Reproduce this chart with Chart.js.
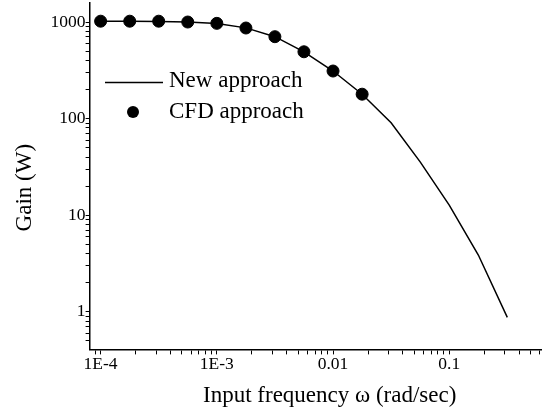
<!DOCTYPE html>
<html>
<head>
<meta charset="utf-8">
<script src="https://cdn.jsdelivr.net/npm/chart.js@4"></script>
<style>
  html, body { margin: 0; padding: 0; background: #fff; }
  #wrap { width: 542px; height: 417px; }
</style>
</head>
<body>
<div id="wrap"><canvas id="gainChart" width="542" height="417"></canvas></div>
<script>
// frequency (rad/sec) and gain (W)
const freqNew = [1e-4, 1.78e-4, 3.16e-4, 5.62e-4, 1e-3, 1.78e-3, 3.16e-3, 5.62e-3, 0.01, 0.0178, 0.0316, 0.0562, 0.1, 0.178, 0.316];
const gainNew = [1020, 1020, 1010, 1000, 965, 870, 705, 492, 311, 179, 90.6, 35.7, 12.7, 3.87, 0.875];

const freqCFD = [1e-4, 1.78e-4, 3.16e-4, 5.62e-4, 1e-3, 1.78e-3, 3.16e-3, 5.62e-3, 0.01, 0.0178];
const gainCFD = [1020, 1020, 1020, 1000, 969, 867, 705, 492, 311, 179];

const xTickValues = [1e-4, 1e-3, 0.01, 0.1];
const xTickLabels = ['1E-4', '1E-3', '0.01', '0.1'];
const yTickValues = [1, 10, 100, 1000];
const yTickLabels = ['1', '10', '100', '1000'];

const xRange = [8.04e-5, 0.616];
const yRange = [0.408, 1574];

const serif = 'Liberation Serif, Times New Roman, serif';

// minor ticks at k*10^n, plus the two ends (kept invisible) so the
// end labels don't push the plot area inwards
function logTicks(scale) {
    const ticks = [{ value: scale.min, edge: true }];
    const lo = Math.floor(Math.log10(scale.min));
    const hi = Math.ceil(Math.log10(scale.max));
    for (let e = lo; e <= hi; e++) {
        for (let k = 1; k <= 9; k++) {
            const v = k * Math.pow(10, e);
            if (v > scale.min && v < scale.max) ticks.push({ value: v });
        }
    }
    ticks.push({ value: scale.max, edge: true });
    scale.ticks = ticks;
}

function findLabel(values, labels, value) {
    const i = values.findIndex(v => Math.abs(v - value) / v < 1e-6);
    return i >= 0 ? labels[i] : '';
}

const tickColor = ctx => (ctx.tick && ctx.tick.edge) ? 'rgba(0,0,0,0)' : '#000';
const tickFont = (values, labels) => ctx => {
    const lbl = ctx.tick ? findLabel(values, labels, ctx.tick.value) : 'x';
    return { family: serif, size: lbl ? 17.5 : 1 };
};

const legendInside = {
    id: 'legendInside',
    afterDatasetsDraw(chart) {
        const ctx = chart.ctx;
        ctx.save();
        ctx.strokeStyle = '#000';
        ctx.lineWidth = 1.5;
        ctx.beginPath();
        ctx.moveTo(105, 82.5);
        ctx.lineTo(163, 82.5);
        ctx.stroke();
        ctx.fillStyle = '#000';
        ctx.beginPath();
        ctx.arc(133, 112, 6, 0, Math.PI * 2);
        ctx.fill();
        ctx.font = '23px ' + serif;
        ctx.textBaseline = 'middle';
        ctx.fillText('New approach', 169, 81);
        ctx.fillText('CFD approach', 169, 112);
        ctx.restore();
    }
};

new Chart(document.getElementById('gainChart'), {
    type: 'scatter',
    data: {
        datasets: [{
            label: 'New approach',
            data: freqNew.map((x, i) => ({ x: x, y: gainNew[i] })),
            showLine: true,
            borderColor: '#000',
            borderWidth: 1.5,
            pointRadius: 0,
            tension: 0
        }, {
            label: 'CFD approach',
            data: freqCFD.map((x, i) => ({ x: x, y: gainCFD[i] })),
            showLine: false,
            backgroundColor: '#000',
            borderColor: '#000',
            pointRadius: 6,
            pointHoverRadius: 6
        }]
    },
    options: {
        responsive: false,
        animation: false,
        layout: { autoPadding: false, padding: { left: 0, right: 1, top: 3, bottom: 7 } },
        plugins: {
            legend: { display: false },
            tooltip: { enabled: false }
        },
        scales: {
            x: {
                type: 'logarithmic',
                min: xRange[0],
                max: xRange[1],
                afterBuildTicks: logTicks,
                border: { color: '#000', width: 1.5 },
                grid: { drawOnChartArea: false, color: tickColor, tickLength: 5 },
                ticks: {
                    autoSkip: false,
                    maxRotation: 0,
                    padding: 0,
                    color: '#000',
                    font: tickFont(xTickValues, xTickLabels),
                    callback: value => findLabel(xTickValues, xTickLabels, value)
                },
                title: {
                    display: true,
                    text: '     Input frequency \u03c9 (rad/sec)',
                    color: '#000',
                    font: { family: serif, size: 23 },
                    padding: { top: 7, bottom: 0 }
                }
            },
            y: {
                type: 'logarithmic',
                min: yRange[0],
                max: yRange[1],
                afterBuildTicks: logTicks,
                border: { color: '#000', width: 1.5 },
                grid: { drawOnChartArea: false, color: tickColor, tickLength: 4 },
                ticks: {
                    autoSkip: false,
                    padding: 0,
                    color: '#000',
                    font: tickFont(yTickValues, yTickLabels),
                    callback: value => findLabel(yTickValues, yTickLabels, value)
                },
                title: {
                    display: true,
                    text: 'Gain (W)    ',
                    color: '#000',
                    font: { family: serif, size: 23 },
                    padding: { top: 11, bottom: 12 }
                }
            }
        }
    },
    plugins: [legendInside]
});
</script>
</body>
</html>
